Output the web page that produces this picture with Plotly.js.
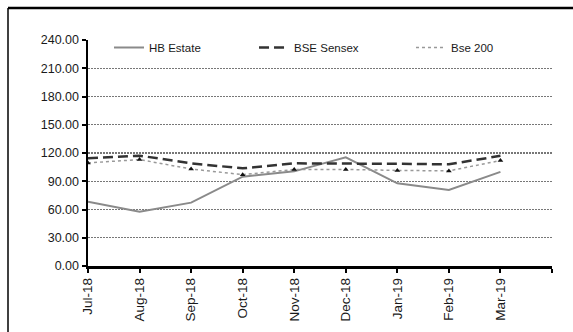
<!DOCTYPE html>
<html>
<head>
<meta charset="utf-8">
<script src="https://cdn.plot.ly/plotly-3.0.1.min.js"></script>
<style>html,body{margin:0;padding:0;background:#fff;}#chart{width:573px;height:332px;}</style>
</head>
<body>
<div id="chart"></div>
<script>
const months = ["Jul-18","Aug-18","Sep-18","Oct-18","Nov-18","Dec-18","Jan-19","Feb-19","Mar-19"];
const hbEstate = [68.3, 57.7, 67.3, 94.8, 100.5, 115.4, 87.8, 80.7, 100.0];
const bseSensex = [114.3, 117.2, 109.0, 103.7, 109.0, 109.0, 108.5, 108.0, 117.0];
const bse200 = [109.5, 113.0, 103.0, 97.0, 102.5, 102.5, 101.5, 101.0, 112.0];
const yTicks = [0, 30, 60, 90, 120, 150, 180, 210, 240];

const xIdx = months.map((m, i) => i);
const font = {family: "Liberation Sans, Arial, sans-serif", size: 12, color: "#222"};

const traces = [
  {x: xIdx, y: hbEstate, name: "HB Estate", mode: "lines", legend: "legend",
   line: {color: "#8a8a8a", width: 2}},
  {x: xIdx, y: bseSensex, name: "BSE Sensex", mode: "lines", legend: "legend2",
   line: {color: "#333", width: 2.5, dash: "10px,5px"}},
  {x: xIdx, y: bse200, name: "Bse 200", mode: "lines", legend: "legend3",
   line: {color: "#999", width: 1.5, dash: "dot"}},
  {x: xIdx, y: bse200, name: "Bse 200", mode: "markers", showlegend: false,
   marker: {symbol: "triangle-up", size: 5, color: "#111"}}
];

function leg(x) {
  return {orientation: "h", x: x, y: 1.031, xanchor: "left", yanchor: "top",
          font: {family: font.family, size: 11.5, color: "#1a1a1a"},
          bgcolor: "rgba(0,0,0,0)"};
}

const layout = {
  width: 573, height: 332,
  margin: {l: 88, r: 21, t: 40, b: 66},
  paper_bgcolor: "#fff", plot_bgcolor: "#fff",
  font: font,
  showlegend: true,
  legend: leg(0.0453),
  legend2: leg(0.3578),
  legend3: leg(0.6961),
  xaxis: {range: [0, 9], tickmode: "array",
          tickvals: months.map((m, i) => i).concat([months.length]),
          ticktext: months.concat([""]),
          tickangle: -90, ticks: "outside", ticklen: 4, tickwidth: 2, tickcolor: "#000",
          showline: true, linecolor: "#000", linewidth: 2.5, showgrid: false, zeroline: false,
          tickfont: {family: font.family, size: 13.5, color: "#1a1a1a"}, fixedrange: true},
  yaxis: {range: [0, 240], tickmode: "array", tickvals: yTicks,
          ticktext: yTicks.map(v => v.toFixed(2)),
          ticks: "outside", ticklen: 4, tickwidth: 2, tickcolor: "#000",
          showline: true, linecolor: "#000", linewidth: 2.5,
          showgrid: true, gridcolor: "#777", gridwidth: 1.2, griddash: "2px,1px", zeroline: false,
          tickfont: {family: font.family, size: 12.5, color: "#1a1a1a"}, fixedrange: true},
  shapes: [
    {type: "line", xref: "paper", yref: "paper",
     x0: (8 - 88) / 464, x1: (573 - 88) / 464, y0: (266 - 8) / 226, y1: (266 - 8) / 226,
     line: {color: "#000", width: 2.5}},
    {type: "line", xref: "paper", yref: "paper",
     x0: (8 - 88) / 464, x1: (8 - 88) / 464, y0: (266 - 8) / 226, y1: (266 - 340) / 226,
     line: {color: "#000", width: 1.5}}
  ]
};

Plotly.newPlot("chart", traces, layout, {displayModeBar: false, staticPlot: true});
</script>
</body>
</html>
